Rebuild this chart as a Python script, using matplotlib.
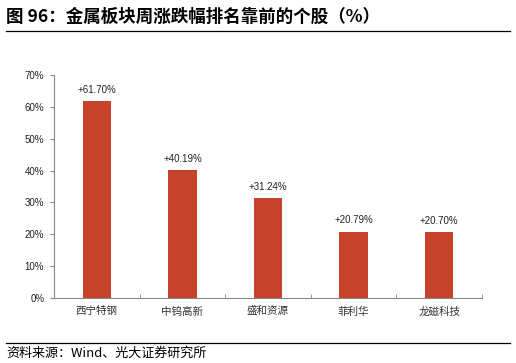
import matplotlib
matplotlib.use('Agg')
import matplotlib.pyplot as plt
from matplotlib.ticker import FuncFormatter, FixedLocator

plt.rcParams['font.family'] = ['Liberation Sans', 'Noto Sans CJK SC', 'DejaVu Sans']

stocks = ['西宁特钢', '中钨高新', '盛和资源', '菲利华', '龙磁科技']
changes = [61.70, 40.19, 31.24, 20.79, 20.70]

fig = plt.figure(figsize=(5.16, 3.63), dpi=100)
ax = fig.add_axes([54 / 516, 1 - 298 / 363, 428 / 516, 223 / 363])

x = list(range(len(stocks)))
ax.bar(x, changes, width=0.33, color='#C4432A', zorder=2)
for xi, v in zip(x, changes):
    ax.text(xi, v + 2.0, '+%.2f%%' % v, ha='center', va='bottom', fontsize=7, color='#222222')

ax.set_xlim(-0.5, len(stocks) - 0.5)
ax.set_ylim(0, 70)
ax.set_yticks(range(0, 71, 10))
ax.yaxis.set_major_formatter(FuncFormatter(lambda v, p: '%d%%' % v))
ax.set_xticks(x)
ax.set_xticklabels(stocks, fontsize=7.6, color='#333333', family=['Noto Sans CJK SC'])
ax.xaxis.set_minor_locator(FixedLocator([i + 0.5 for i in x[:-1]] + [len(stocks) - 0.5]))
ax.tick_params(axis='x', which='major', length=0, pad=6)
ax.tick_params(axis='x', which='minor', direction='in', length=3, color='#888888')
ax.tick_params(axis='y', direction='out', length=3, color='#888888', labelsize=7, labelcolor='#222222', pad=4)
for s in ['top', 'right']:
    ax.spines[s].set_visible(False)
ax.spines['left'].set_color('#888888')
ax.spines['bottom'].set_color('#888888')

fig.text(6 / 516, 1 - 17 / 363, '图 96：金属板块周涨跌幅排名靠前的个股（%）', fontsize=12.6, fontweight='bold',
         va='center', ha='left', family=['Noto Sans CJK SC'])
fig.add_artist(plt.Line2D([6 / 516, 510 / 516], [1 - 31 / 363, 1 - 31 / 363], color='black', lw=0.9))
fig.add_artist(plt.Line2D([6 / 516, 510 / 516], [1 - 343 / 363, 1 - 343 / 363], color='black', lw=0.9))
fig.text(6 / 516, 1 - 353 / 363, '资料来源：Wind、光大证券研究所', fontsize=9.4, va='center', ha='left',
         family=['Noto Sans CJK SC'])

fig.savefig('out.png', dpi=100)
